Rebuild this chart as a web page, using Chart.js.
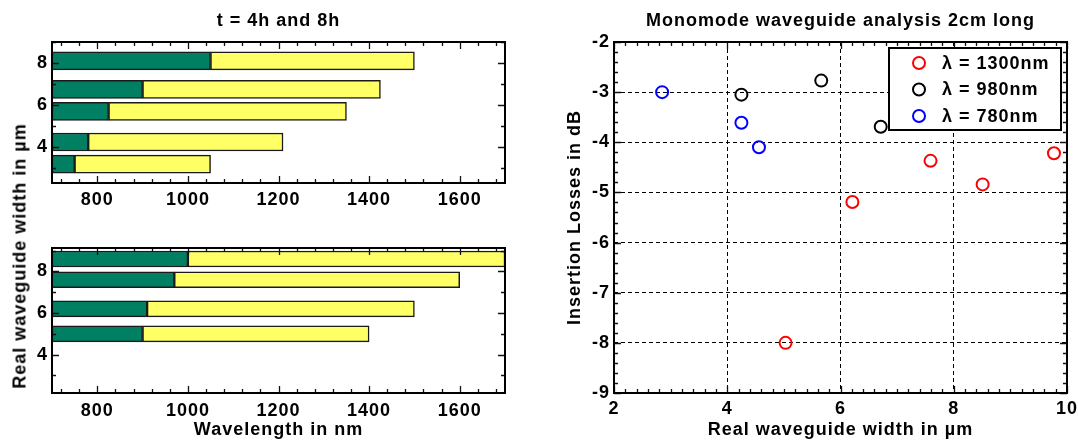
<!DOCTYPE html>
<html>
<head>
<meta charset="utf-8">
<script src="https://cdn.jsdelivr.net/npm/chart.js@4.4.0/dist/chart.umd.min.js"></script>
<style>
  body { margin: 0; background: #fff; }
  #wrap { position: relative; width: 1078px; height: 442px; }
  canvas { position: absolute; }
  #ytitle {
    position: absolute; left: 20px; top: 256px;
    transform: translate(-50%, -50%) rotate(-90deg);
    font: bold 18px 'Liberation Sans', Arial, sans-serif;
    letter-spacing: 1px; white-space: nowrap; color: #000;
  }
</style>
</head>
<body>
<div id="wrap">
  <canvas id="top" width="540" height="222" style="left:0;top:0"></canvas>
  <canvas id="bottom" width="540" height="220" style="left:0;top:222px"></canvas>
  <canvas id="loss" width="538" height="442" style="left:540px;top:0"></canvas>
  <div id="ytitle">Real waveguide width in µm</div>
</div>
<script>
// left panels: waveguide width vs wavelength range (green = below cut-off, yellow = guided)
const baseWl = 700;
const width4h = [8.1, 6.75, 5.7, 4.25, 3.2];
const cut4h = [1050, 900, 825, 780, 750];
const end4h = [1500, 1425, 1350, 1210, 1050];

const width8h = [8.6, 7.6, 6.2, 5.0];
const cut8h = [1000, 970, 910, 900];
const end8h = [1700, 1600, 1500, 1400];

const wlTicks = [800, 1000, 1200, 1400, 1600];
const widthTicks = [4, 6, 8];

// right panel: insertion losses
const w1300 = [5.03, 6.21, 7.59, 8.51, 9.77];
const il1300 = [-8.0, -5.19, -4.37, -4.84, -4.22];
const w980 = [4.25, 5.66, 6.71];
const il980 = [-3.05, -2.77, -3.69];
const w780 = [2.85, 4.25, 4.56];
const il780 = [-3.0, -3.61, -4.1];

const realWidthTicks = [2, 4, 6, 8, 10];
const lossTicks = [-9, -8, -7, -6, -5, -4, -3, -2];

const FONT = "'Liberation Sans', Arial, sans-serif";
Chart.defaults.font.family = FONT;
Chart.defaults.font.size = 18;
Chart.defaults.font.weight = 'bold';
Chart.defaults.color = '#000';

const green = '#007f62';
const yellow = '#ffff66';

// frame, inward ticks, title and legend
const decor = {
  id: 'decor',
  beforeDraw(chart) {
    chart.ctx.letterSpacing = '1px';
  },
  afterDatasetsDraw(chart, args, opts) {
    const { ctx, chartArea: a, scales: { x, y } } = chart;
    ctx.save();
    ctx.strokeStyle = '#111';
    ctx.lineWidth = 1.3;
    ctx.beginPath();
    const marks = (scale, step, len) => {
      for (let k = Math.ceil(scale.min / step - 1e-6); k * step <= scale.max + 1e-6; k++) {
        const p = Math.round(scale.getPixelForValue(k * step)) + 0.5;
        if (scale.axis === 'x') {
          ctx.moveTo(p, a.bottom); ctx.lineTo(p, a.bottom - len);
          ctx.moveTo(p, a.top); ctx.lineTo(p, a.top + len);
        } else {
          ctx.moveTo(a.left, p); ctx.lineTo(a.left + len, p);
          ctx.moveTo(a.right, p); ctx.lineTo(a.right - len, p);
        }
      }
    };
    marks(x, opts.xMinor, 4);
    marks(x, opts.xMajor, 7);
    marks(y, opts.yMinor, 4);
    marks(y, opts.yMajor, 7);
    ctx.stroke();
    ctx.lineWidth = 2;
    ctx.strokeStyle = '#000';
    ctx.strokeRect(a.left, a.top, a.width, a.height);
    ctx.restore();
  },
  afterDraw(chart, args, opts) {
    const { ctx, chartArea: a } = chart;
    ctx.save();
    ctx.font = 'bold 18px ' + FONT;
    ctx.letterSpacing = '1px';
    ctx.fillStyle = '#000';
    if (opts.title) {
      ctx.textAlign = 'center';
      ctx.textBaseline = 'alphabetic';
      ctx.fillText(opts.title, (a.left + a.right) / 2, 26);
    }
    if (opts.legend) {
      const w = 172, h = 82, bx = a.right - 6 - w, by = a.top + 6;
      ctx.fillStyle = '#fff';
      ctx.fillRect(bx, by, w, h);
      ctx.lineWidth = 2;
      ctx.strokeStyle = '#000';
      ctx.strokeRect(bx, by, w, h);
      chart.data.datasets.forEach((ds, i) => {
        const cy = by + 15 + i * 26.5;
        ctx.beginPath();
        ctx.arc(bx + 30, cy, 6, 0, Math.PI * 2);
        ctx.strokeStyle = ds.borderColor;
        ctx.lineWidth = 2;
        ctx.stroke();
        ctx.fillStyle = '#000';
        ctx.textAlign = 'left';
        ctx.textBaseline = 'middle';
        ctx.fillText(ds.label, bx + 53, cy + 1);
      });
    }
    ctx.restore();
  }
};

function fixTicks(values) {
  return s => { s.ticks = values.map(v => ({ value: v })); };
}
const plain = v => String(v);

function barPanel(id, widths, cut, end, yMin, yMax, thick, pad, axisH, labelPad, title, xTitle) {
  return new Chart(document.getElementById(id), {
    type: 'bar',
    data: {
      datasets: [{
        label: 'cut-off',
        data: widths.map((w, i) => ({ y: w, x: [baseWl, cut[i]] })),
        backgroundColor: green
      }, {
        label: 'guided',
        data: widths.map((w, i) => ({ y: w, x: [cut[i], end[i]] })),
        backgroundColor: yellow
      }]
    },
    options: {
      indexAxis: 'y',
      responsive: false,
      animation: false,
      events: [],
      layout: { padding: pad },
      datasets: {
        bar: {
          grouped: false,
          borderWidth: 1.5,
          borderColor: '#1a1a1a',
          borderSkipped: false,
          barPercentage: 1,
          categoryPercentage: 1,
          maxBarThickness: thick
        }
      },
      scales: {
        x: {
          type: 'linear', min: baseWl, max: 1700,
          grid: { display: false, drawTicks: false },
          border: { display: false },
          ticks: { padding: labelPad, maxRotation: 0, autoSkip: false, callback: plain },
          afterBuildTicks: fixTicks(wlTicks),
          afterFit: s => { s.height = axisH; s.paddingLeft = 0; s.paddingRight = 0; },
          title: { display: !!xTitle, text: xTitle || '', padding: { top: 0, bottom: 1 } }
        },
        y: {
          type: 'linear', min: yMin, max: yMax, offset: false,
          grid: { display: false, drawTicks: false, offset: false },
          border: { display: false },
          ticks: { padding: 4, autoSkip: false, callback: plain },
          afterBuildTicks: fixTicks(widthTicks),
          afterFit: s => { s.width = 52; s.paddingTop = 0; s.paddingBottom = 0; }
        }
      },
      plugins: {
        legend: { display: false },
        tooltip: { enabled: false },
        decor: { title: title, xMajor: 200, xMinor: 40, yMajor: 2, yMinor: 1 }
      }
    },
    plugins: [decor]
  });
}

barPanel('top', width4h, cut4h, end4h, 2.3, 9, 18,
  { top: 42, right: 35, left: 0, bottom: 0 }, 39, 6, 't = 4h and 8h', null);
barPanel('bottom', width8h, cut8h, end8h, 2.15, 9.13, 16,
  { top: 26, right: 35, left: 0, bottom: 0 }, 49, 7, null, 'Wavelength in nm');

const pts = (xs, ys) => xs.map((v, i) => ({ x: v, y: ys[i] }));

new Chart(document.getElementById('loss'), {
  type: 'scatter',
  data: {
    datasets: [
      { label: 'λ = 1300nm', data: pts(w1300, il1300), borderColor: '#ff0000' },
      { label: 'λ = 980nm', data: pts(w980, il980), borderColor: '#000000' },
      { label: 'λ = 780nm', data: pts(w780, il780), borderColor: '#0000ff' }
    ]
  },
  options: {
    responsive: false,
    animation: false,
    events: [],
    layout: { padding: { top: 42, right: 11, left: 0, bottom: 0 } },
    elements: {
      point: { radius: 6, borderWidth: 2, backgroundColor: 'rgba(0,0,0,0)', pointStyle: 'circle' }
    },
    scales: {
      x: {
        type: 'linear', min: 2, max: 10,
        grid: { color: '#000', lineWidth: 1, drawTicks: false },
        border: { display: false, dash: [4, 3] },
        ticks: { padding: 5, maxRotation: 0, autoSkip: false, callback: plain },
        afterBuildTicks: fixTicks(realWidthTicks),
        afterFit: s => { s.height = 49; s.paddingLeft = 0; s.paddingRight = 0; },
        title: { display: true, text: 'Real waveguide width in µm', padding: { top: 0, bottom: 1 } }
      },
      y: {
        type: 'linear', min: -9, max: -2,
        grid: { color: '#000', lineWidth: 1, drawTicks: false },
        border: { display: false, dash: [4, 3] },
        ticks: { padding: 4, autoSkip: false, callback: plain },
        afterBuildTicks: fixTicks(lossTicks),
        afterFit: s => { s.width = 74; s.paddingTop = 0; s.paddingBottom = 0; },
        title: { display: true, text: 'Insertion Losses in dB', padding: { top: 24, bottom: 0 } }
      }
    },
    plugins: {
      legend: { display: false },
      tooltip: { enabled: false },
      decor: { title: 'Monomode waveguide analysis 2cm long', legend: true, xMajor: 2, xMinor: 0.2, yMajor: 1, yMinor: 0.2 }
    }
  },
  plugins: [decor]
});
</script>
</body>
</html>
